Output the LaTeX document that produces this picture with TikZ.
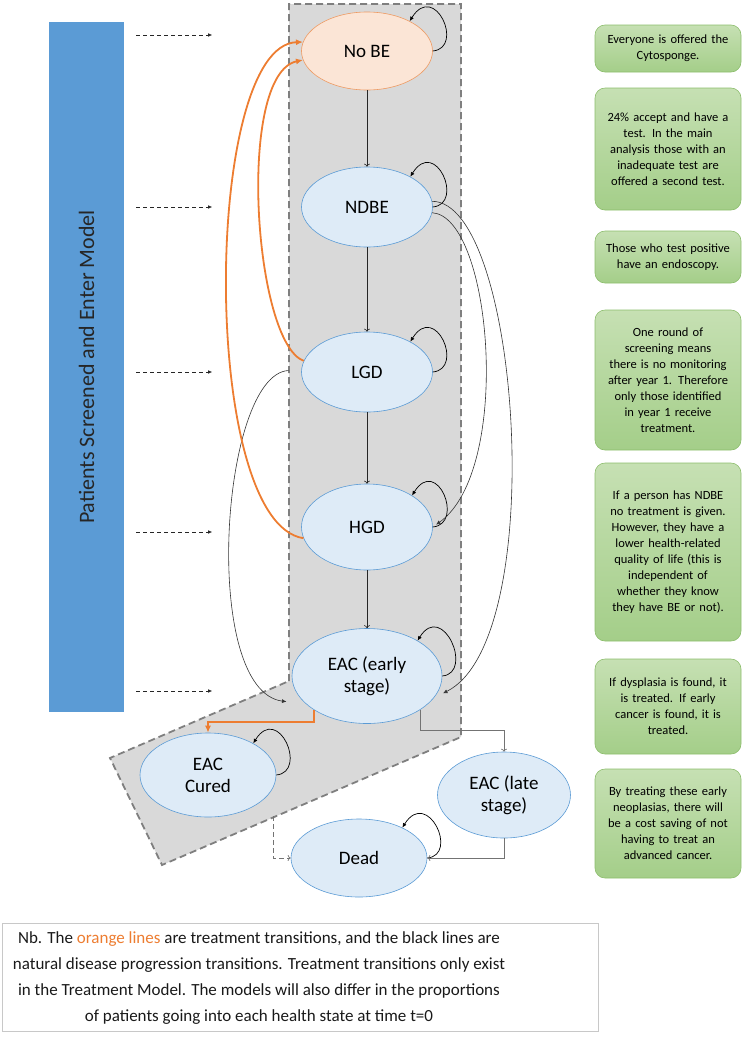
\documentclass[tikz,border=0pt]{standalone}
\usepackage{fontspec}
\setmainfont{Carlito}
\usepackage{tikz}
\usetikzlibrary{arrows.meta,shapes.geometric,positioning}
\definecolor{screenblue}{HTML}{5B9BD5}
\definecolor{statefill}{HTML}{DEEBF7}
\definecolor{stateline}{HTML}{5B9BD5}
\definecolor{nobefill}{HTML}{FBE5D6}
\definecolor{nobeline}{HTML}{EE9A62}
\definecolor{regionfill}{HTML}{D9D9D9}
\definecolor{regionline}{HTML}{7F7F7F}
\definecolor{treatorange}{HTML}{ED7D31}
\definecolor{notetop}{HTML}{C6E0B3}
\definecolor{notebot}{HTML}{A4CE89}
\definecolor{noteline}{HTML}{8CBD6C}
\definecolor{nbline}{HTML}{C8C8C8}

\begin{document}
\begin{tikzpicture}[x=1pt,y=-1pt,
  state/.style={ellipse,draw=stateline,fill=statefill,line width=0.6pt,inner sep=0pt,
    minimum width=131pt,minimum height=80pt,align=center,font=\fontsize{19}{22}\selectfont},
  note/.style={rounded corners=10pt,draw=noteline,line width=0.6pt,top color=notetop,bottom color=notebot,
    text width=136pt,inner xsep=5pt,align=center,font=\fontsize{12.5}{16}\selectfont},
  prog/.style={-{To[length=3pt,width=6pt]},line width=0.6pt,black!85},
  loopline/.style={-{Latex[length=4.5pt,width=4pt]},line width=0.7pt,black},
  curveline/.style={-{Latex[length=4.5pt,width=4pt]},line width=0.6pt,black!80},
  treat/.style={-{Latex[length=7pt,width=6pt]},line width=1.8pt,treatorange},
  grayline/.style={-{To[length=3pt,width=6pt]},line width=0.7pt,black!55},
  entry/.style={-{Latex[length=4pt,width=3.5pt]},dash pattern=on 4pt off 3pt,line width=0.6pt,black!85}]
\useasboundingbox (0,0) rectangle (744,1037);

\fill[regionfill] (289,4) -- (461,4) -- (461,737) -- (162,865) -- (110,758) -- (289,681) -- cycle;
\draw[regionline,line width=1.8pt,dash pattern=on 7pt off 4pt] (289,681) -- (289,4) -- (461,4) -- (461,737) -- (162,865) -- (110,758) -- cycle;

\node[fill=screenblue,minimum width=75pt,minimum height=690pt,inner sep=0pt] (screen) at (86.5,367) {};
\node[rotate=90,text=black!85,font=\fontsize{22}{26}\selectfont] at (screen.center) {Patients Screened and Enter Model};

\node[state,draw=nobeline,fill=nobefill,minimum height=78pt] (nobe) at (367,51) {No BE};
\node[state] (ndbe) at (367,207) {NDBE};
\node[state] (lgd) at (367,372) {LGD};
\node[state,minimum height=86pt] (hgd) at (367,527) {HGD};
\node[state,minimum width=150pt,minimum height=95pt] (eace) at (367,676) {EAC (early\\stage)};
\node[state,minimum width=136pt,minimum height=84pt] (cured) at (208,775) {EAC\\Cured};
\node[state,minimum width=133pt,minimum height=86pt] (late) at (504,795) {EAC (late\\stage)};
\node[state,minimum width=136pt,minimum height=78pt] (dead) at (359,858) {Dead};
\coordinate (curedout) at (273,816);

\foreach \y in {35,207,372,532,691}
  \draw[entry] ([xshift=12pt]screen.east |- 0,\y) -- ++(76,0);

\foreach \s in {nobe,ndbe,lgd,hgd,eace,cured,dead}
  \draw[loopline] (\s.east) .. controls +(32,-3) and +(25,-40) .. (\s.35);

\draw[prog] (nobe) -- (ndbe);
\draw[prog] (ndbe) -- (lgd);
\draw[prog] (lgd) -- (hgd);
\draw[prog] (hgd) -- (eace);

\draw[curveline,shorten >=10pt] (ndbe.5) .. controls +(88,0) and +(116,-58) .. (eace.-18);
\draw[curveline,shorten >=4pt] (ndbe.-5) .. controls +(60,4) and +(80,-57) .. (hgd.0);
\draw[curveline,shorten <=13pt,shorten >=20pt] (lgd.178) .. controls +(-81,5) and +(-106,-14) .. (eace.205);

\draw[treat] (lgd.170) .. controls +(-50,-18) and +(-67,14) .. (nobe.188);
\draw[treat] (hgd.190) .. controls +(-104,-16) and +(-100,3) .. (nobe.172);
\draw[treat] (eace.213) -- ++(0,12) -| (cured.north);

\draw[grayline] (eace.-32) -- ++(0,21) -| (late.north);
\draw[grayline] (late.south) |- (dead.east);
\draw[grayline,dash pattern=on 5pt off 3pt] (curedout) |- (dead.west);

\node[note,minimum height=47pt] (n1) at (668,48.5) {Everyone is offered the\\Cytosponge.};
\node[note,minimum height=122pt] (n2) at (668,149) {24\% accept and have a\\test. In the main\\analysis those with an\\inadequate test are\\offered a second test.};
\node[note,minimum height=52pt] (n3) at (668,257) {Those who test positive\\have an endoscopy.};
\node[note,minimum height=140pt] (n4) at (668,380) {One round of\\screening means\\there is no monitoring\\after year 1. Therefore\\only those identified\\in year 1 receive\\treatment.};
\node[note,minimum height=178pt] (n5) at (668,552) {If a person has NDBE\\no treatment is given.\\However, they have a\\lower health-related\\quality of life (this is\\independent of\\whether they know\\they have BE or not).};
\node[note,minimum height=95pt] (n6) at (668,706.5) {If dysplasia is found, it\\is treated. If early\\cancer is found, it is\\treated.};
\node[note,minimum height=109pt] (n7) at (668,823.5) {By treating these early\\neoplasias, there will\\be a cost saving of not\\having to treat an\\advanced cancer.};

\node[draw=nbline,line width=0.6pt,minimum width=596pt,minimum height=108pt,inner sep=0pt] (nbbox) at (300,977) {};
\node[anchor=center,align=center,font=\fontsize{17}{25.7}\selectfont,text=black!90] (nb) at (259,978)
  {Nb. The \textcolor{treatorange}{orange lines} are treatment transitions, and the black lines are\\
   natural disease progression transitions. Treatment transitions only exist\\
   in the Treatment Model. The models will also differ in the proportions\\
   of patients going into each health state at time t=0};
\end{tikzpicture}
\end{document}
